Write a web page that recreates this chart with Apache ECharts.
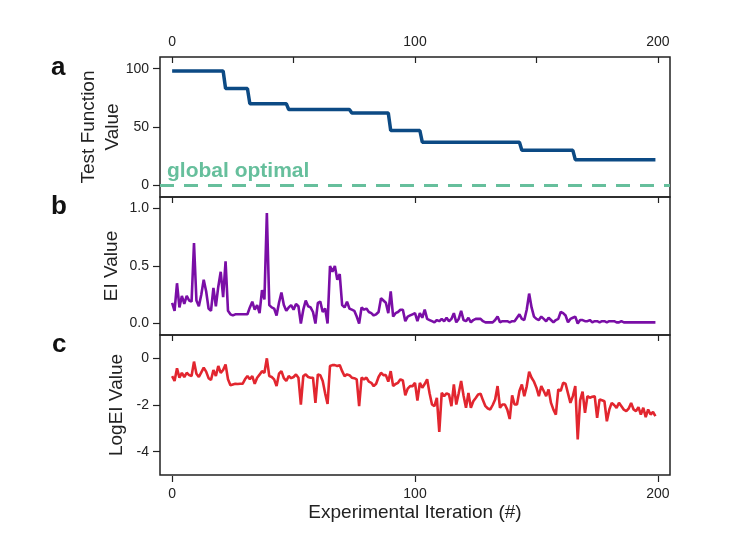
<!DOCTYPE html>
<html>
<head>
<meta charset="utf-8">
<script src="https://cdn.jsdelivr.net/npm/echarts@6/dist/echarts.min.js"></script>
<style>
  html, body { margin: 0; padding: 0; background: #fff; }
  #main { width: 746px; height: 537px; }
</style>
</head>
<body>
<div id="main"></div>
<script>
// step points of the best test function value
var bestIter = [0, 21, 22, 31, 32, 47, 48, 73, 74, 89, 90, 102, 103, 143, 144, 165, 166, 199];
var bestValue = [98, 98, 83, 83, 70, 70, 65, 65, 62, 62, 47, 47, 37, 37, 30, 30, 22, 22];

// EI value per iteration (0..199)
var eiValue = [
  0.18, 0.11, 0.35, 0.14, 0.24, 0.17, 0.24, 0.20, 0.19, 0.70,
  0.20, 0.15, 0.25, 0.38, 0.28, 0.13, 0.11, 0.31, 0.15, 0.32,
  0.45, 0.23, 0.54, 0.11, 0.08, 0.07, 0.08, 0.08, 0.08, 0.08,
  0.08, 0.08, 0.14, 0.19, 0.12, 0.16, 0.09, 0.29, 0.21, 0.96,
  0.16, 0.14, 0.13, 0.07, 0.18, 0.27, 0.16, 0.11, 0.14, 0.16,
  0.12, 0.17, 0.15, 0.00, 0.12, 0.20, 0.15, 0.14, 0.10, 0.00,
  0.18, 0.19, 0.10, 0.13, 0.00, 0.50, 0.45, 0.50, 0.38, 0.43,
  0.16, 0.14, 0.19, 0.13, 0.12, 0.11, 0.06, 0.00, 0.14, 0.12,
  0.13, 0.10, 0.09, 0.07, 0.08, 0.10, 0.22, 0.20, 0.18, 0.09,
  0.28, 0.06, 0.09, 0.10, 0.12, 0.12, 0.02, 0.06, 0.07, 0.08,
  0.09, 0.02, 0.09, 0.05, 0.12, 0.04, 0.03, 0.02, 0.01, 0.03,
  0.02, 0.04, 0.02, 0.05, 0.02, 0.04, 0.09, 0.01, 0.04, 0.11,
  0.03, 0.02, 0.05, 0.01, 0.03, 0.04, 0.04, 0.04, 0.02, 0.01,
  0.01, 0.01, 0.01, 0.03, 0.06, 0.01, 0.02, 0.02, 0.02, 0.01,
  0.02, 0.02, 0.05, 0.08, 0.04, 0.03, 0.12, 0.26, 0.14, 0.06,
  0.04, 0.03, 0.06, 0.04, 0.02, 0.05, 0.03, 0.01, 0.03, 0.04,
  0.10, 0.09, 0.07, 0.01, 0.04, 0.05, 0.06, 0.00, 0.03, 0.03,
  0.02, 0.02, 0.03, 0.01, 0.02, 0.02, 0.01, 0.02, 0.02, 0.01,
  0.02, 0.02, 0.02, 0.01, 0.01, 0.02, 0.01, 0.01, 0.01, 0.01,
  0.01, 0.01, 0.01, 0.01, 0.01, 0.01, 0.01, 0.01, 0.01, 0.01
];

// log EI value per iteration (0..199)
var logEiValue = [
  -0.76, -0.97, -0.43, -0.83, -0.62, -0.80, -0.62, -0.72, -0.76, -0.14,
  -0.66, -0.80, -0.60, -0.40, -0.57, -0.85, -0.93, -0.50, -0.76, -0.33,
  -0.62, -0.50, -0.26, -0.90, -1.15, -1.12, -1.09, -1.10, -1.09, -1.09,
  -0.90, -0.76, -0.90, -0.76, -1.09, -0.83, -0.70, -0.55, -0.62, 0.00,
  -0.76, -0.80, -0.90, -1.19, -0.66, -0.55, -0.85, -0.97, -0.76, -0.85,
  -0.80, -0.69, -0.83, -1.98, -0.76, -0.69, -0.80, -0.83, -0.83, -1.91,
  -0.69, -0.72, -0.97, -1.50, -1.95, -0.33, -0.29, -0.29, -0.33, -0.29,
  -0.55, -0.76, -0.69, -0.72, -0.83, -0.85, -0.90, -2.05, -0.83, -0.90,
  -0.83, -1.00, -1.05, -1.19, -1.09, -0.80, -0.62, -0.72, -0.72, -1.00,
  -0.55, -1.19, -1.10, -1.05, -0.90, -0.95, -1.58, -1.30, -1.19, -1.19,
  -1.05, -1.81, -1.05, -1.26, -1.10, -0.90, -1.50, -1.98, -2.05, -1.69,
  -3.15, -1.48, -1.62, -1.50, -1.55, -2.05, -1.12, -1.98, -1.50, -0.97,
  -1.60, -2.12, -1.48, -2.12, -1.84, -1.70, -1.55, -1.52, -1.80, -2.05,
  -2.15, -2.19, -2.00, -1.76, -1.19, -2.12, -1.98, -1.98, -2.20, -2.60,
  -1.59, -1.98, -1.98, -1.40, -1.12, -1.62, -1.20, -0.57, -0.83, -1.00,
  -1.26, -1.62, -1.19, -1.40, -1.62, -1.33, -1.91, -2.20, -2.41, -1.33,
  -1.40, -1.05, -1.09, -1.50, -1.91, -1.62, -1.19, -3.48, -1.80, -1.43,
  -2.34, -1.62, -1.69, -1.65, -1.62, -2.55, -1.76, -1.80, -1.84, -2.70,
  -2.20, -1.91, -2.00, -2.12, -1.91, -2.05, -2.20, -2.26, -2.15, -1.91,
  -2.19, -2.26, -2.09, -2.41, -2.12, -2.52, -2.19, -2.41, -2.30, -2.48
];

var xTicks = [0, 100, 200];
var xMinorTicks = [0, 50, 100, 150, 200];
var yTicksA = [0, 50, 100];
var yTicksB = [0, 0.5, 1.0];
var yTicksC = [-4, -2, 0];

var font = 'Liberation Sans, Arial, sans-serif';
var ink = '#222';

var chart = echarts.init(document.getElementById('main'));

function topAxis(gridIndex, ticks, labels) {
  return {
    type: 'value', gridIndex: gridIndex, position: 'top',
    min: -5, max: 205,
    axisLine: { show: false, onZero: false },
    splitLine: { show: false },
    axisTick: { show: true, inside: true, length: 6, customValues: ticks,
      lineStyle: { color: ink, width: 1.2 } },
    axisLabel: { show: labels, customValues: xTicks, margin: 8,
      fontFamily: font, fontSize: 14, color: ink }
  };
}

function leftAxis(gridIndex, min, max, ticks, name, gap, fmt) {
  return {
    type: 'value', gridIndex: gridIndex, min: min, max: max,
    name: name, nameLocation: 'middle', nameGap: gap, nameMoveOverlap: false,
    nameTextStyle: { fontFamily: font, fontSize: 19, color: ink, lineHeight: 24 },
    axisLine: { show: false, onZero: false },
    splitLine: { show: false },
    axisTick: { show: true, length: 7, customValues: ticks,
      lineStyle: { color: ink, width: 1.2 } },
    axisLabel: { customValues: ticks, margin: 11, formatter: fmt,
      fontFamily: font, fontSize: 14, color: ink }
  };
}

var border = { show: true, borderColor: ink, borderWidth: 1.5, backgroundColor: 'transparent' };

var option = {
  backgroundColor: '#fff',
  animation: false,
  grid: [
    Object.assign({ left: 160, right: 76, top: 57, height: 140 }, border),
    Object.assign({ left: 160, right: 76, top: 197, height: 138 }, border),
    Object.assign({ left: 160, right: 76, top: 335, height: 140 }, border)
  ],
  xAxis: [
    topAxis(0, xMinorTicks, true),
    topAxis(1, xTicks, false),
    topAxis(2, xTicks, false),
    {
      type: 'value', gridIndex: 2, position: 'bottom', offset: 1,
      min: -5, max: 205,
      name: 'Experimental Iteration (#)', nameLocation: 'middle', nameGap: 27,
      nameTextStyle: { fontFamily: font, fontSize: 19, color: ink },
      axisLine: { show: false, onZero: false },
      splitLine: { show: false },
      axisTick: { show: true, length: 6, customValues: xTicks,
        lineStyle: { color: ink, width: 1.2 } },
      axisLabel: { customValues: xTicks, margin: 11,
        fontFamily: font, fontSize: 14, color: ink }
    }
  ],
  yAxis: [
    leftAxis(0, -10, 110, yTicksA, 'Test Function\nValue', 35, function (v) { return String(v); }),
    leftAxis(1, -0.1, 1.1, yTicksB, 'EI Value', 36, function (v) { return v.toFixed(1); }),
    leftAxis(2, -5, 1, yTicksC, 'LogEI Value', 31, function (v) { return String(v); })
  ],
  graphic: [
    { type: 'text', left: 51, top: 55,
      style: { text: 'a', font: 'bold 26px ' + font, fill: '#111' } },
    { type: 'text', left: 51, top: 194,
      style: { text: 'b', font: 'bold 26px ' + font, fill: '#111' } },
    { type: 'text', left: 52, top: 332,
      style: { text: 'c', font: 'bold 26px ' + font, fill: '#111' } },
    { type: 'text', left: 167, top: 161,
      style: { text: 'global optimal', font: 'bold 21px ' + font, fill: '#66bf9c' } }
  ],
  series: [
    {
      type: 'line', xAxisIndex: 0, yAxisIndex: 0,
      data: bestIter.map(function (x, i) { return [x, bestValue[i]]; }),
      symbol: 'none',
      lineStyle: { color: '#0c4a84', width: 3.5 },
      markLine: {
        silent: true, symbol: 'none', label: { show: false },
        lineStyle: { color: '#66bf9c', width: 3, type: [14, 10] },
        data: [{ yAxis: 0 }]
      }
    },
    {
      type: 'line', xAxisIndex: 1, yAxisIndex: 1,
      data: eiValue.map(function (v, i) { return [i, v]; }),
      symbol: 'none',
      lineStyle: { color: '#7a0ea6', width: 2.6 }
    },
    {
      type: 'line', xAxisIndex: 2, yAxisIndex: 2,
      data: logEiValue.map(function (v, i) { return [i, v]; }),
      symbol: 'none',
      lineStyle: { color: '#e2262f', width: 2.6 }
    }
  ]
};

chart.setOption(option);
</script>
</body>
</html>
